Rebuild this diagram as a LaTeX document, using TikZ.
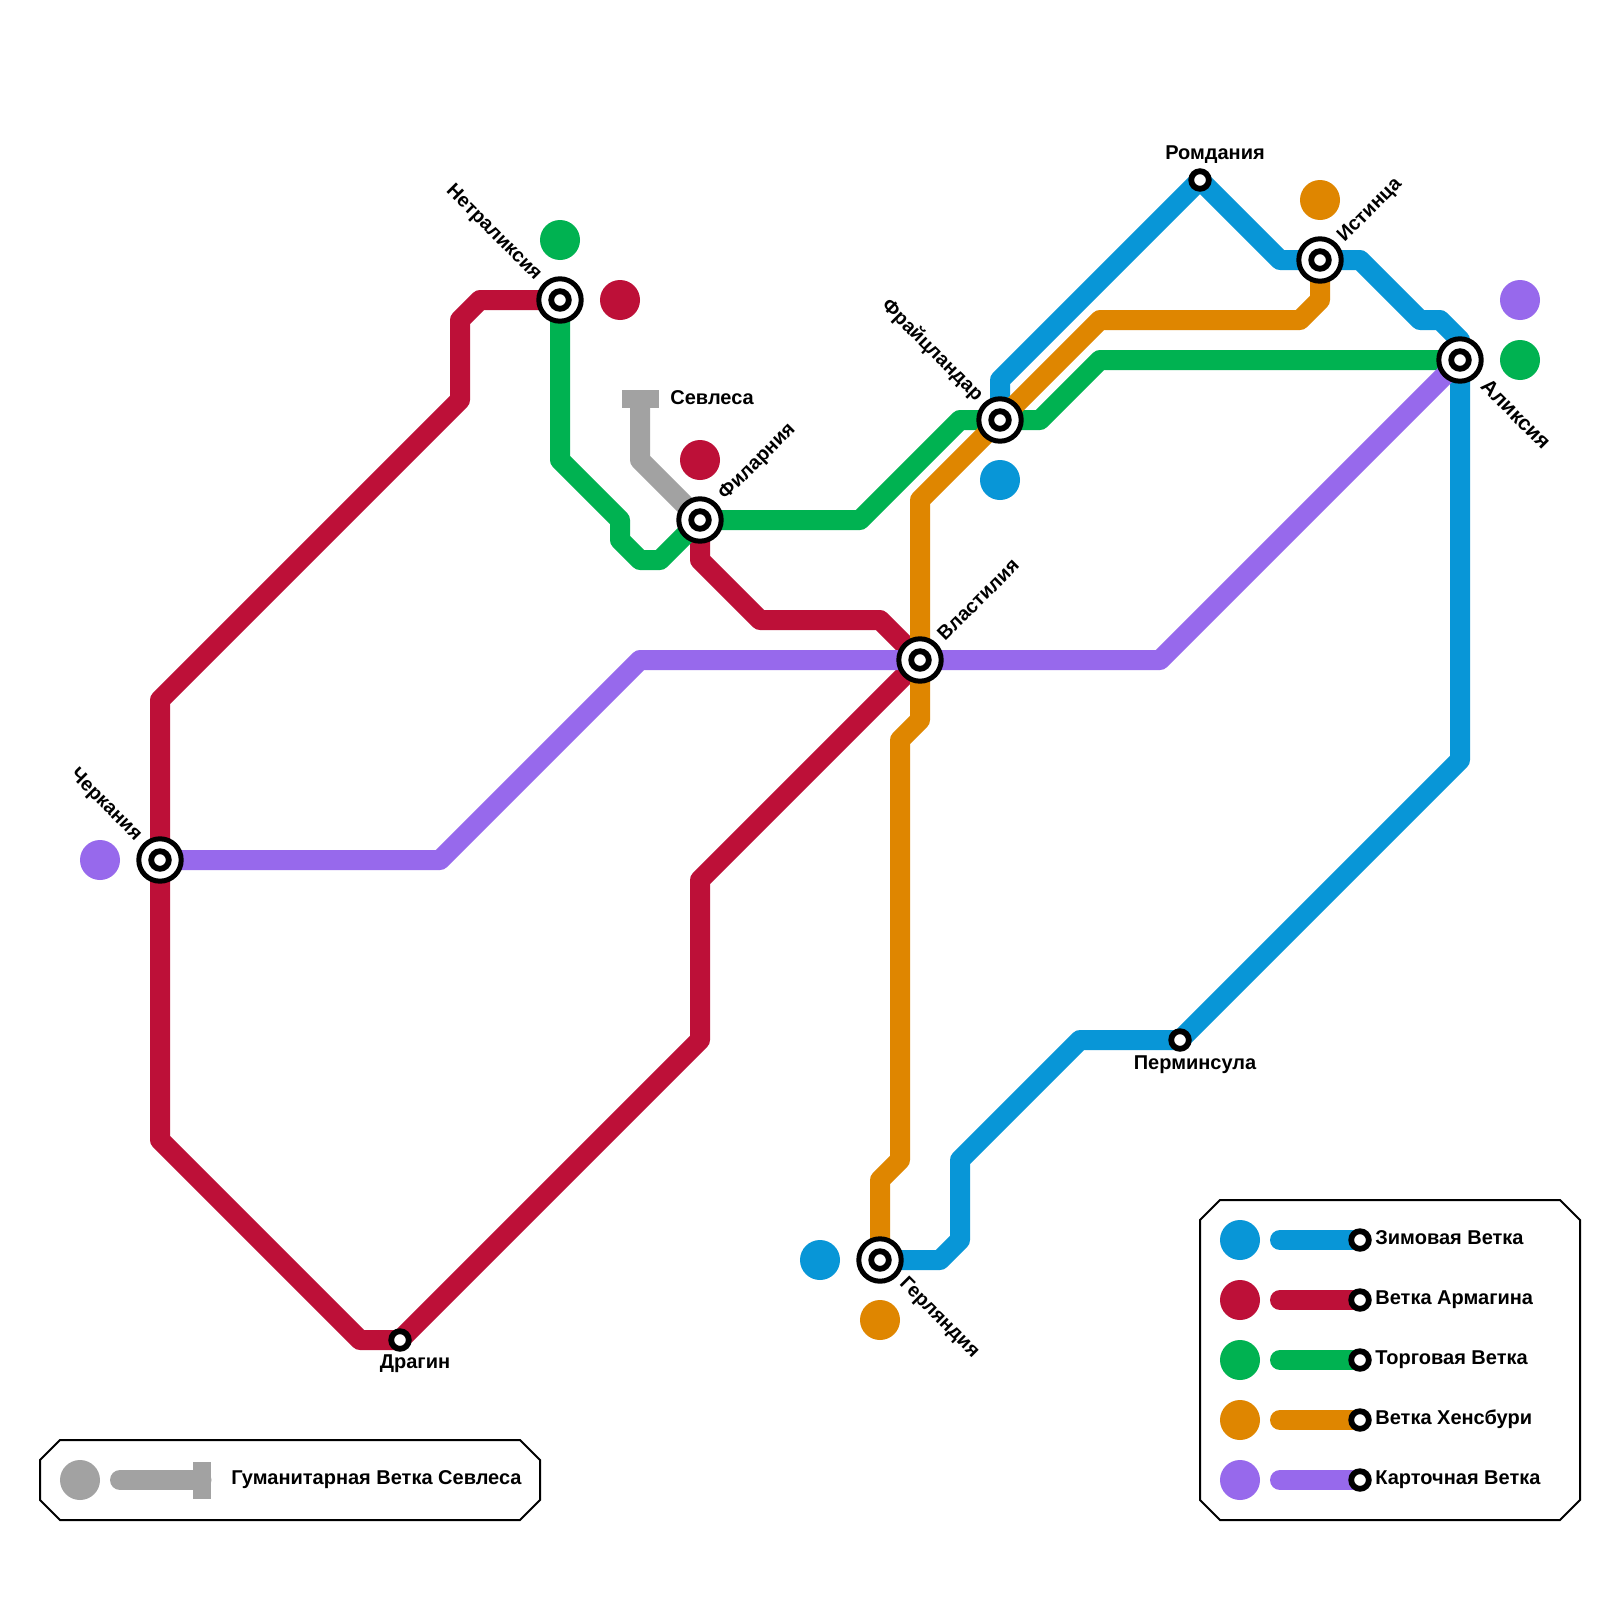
\documentclass[tikz,border=0pt]{standalone}
\usepackage{fontspec}
\setmainfont{Liberation Sans}
\usetikzlibrary{backgrounds}
\definecolor{cblue}{HTML}{0896D7}
\definecolor{cred}{HTML}{BD1038}
\definecolor{cgreen}{HTML}{00B251}
\definecolor{corange}{HTML}{DF8600}
\definecolor{cpurple}{HTML}{9769EC}
\definecolor{cgray}{HTML}{A2A2A2}
\tikzset{
  hub/.style={circle,draw=black,fill=white,line width=2.5pt,minimum size=21.2pt,inner sep=0pt,outer sep=0pt,
    path picture={\draw[black,line width=2.9pt] (path picture bounding box.center) circle (4.4pt);}},
  halt/.style={circle,draw=black,fill=white,line width=2.9pt,minimum size=8.8pt,inner sep=0pt,outer sep=0pt},
  dot/.style={circle,fill=#1,minimum size=20pt,inner sep=0pt,outer sep=0pt},
  way/.style={line width=10pt,line join=round,line cap=butt},
  keyline/.style={line width=10pt,line cap=round},
  lab/.style={font=\fontsize{10}{12}\selectfont\bfseries,text=black,inner sep=0pt},
  tilt/.style={font=\fontsize{9.8}{12}\selectfont\bfseries,text=black,inner sep=0pt},
  keybox/.style={draw=black,line width=1pt,fill=white},
  capbar/.style={fill=cgray,draw=none,minimum width=18.5pt,minimum height=9pt,inner sep=0pt,outer sep=0pt}
}
\begin{document}
\begin{tikzpicture}[x=0.5pt,y=-0.5pt]
\useasboundingbox (0,0) rectangle (1600,1600);
% stations
\node[hub] (cherk) at (160,860) {};
\node[hub] (netr) at (560,300) {};
\node[hub] (fil) at (700,520) {};
\node[hub] (vlast) at (920,660) {};
\node[hub] (frai) at (1000,420) {};
\node[hub] (alik) at (1460,360) {};
\node[hub] (ist) at (1320,260) {};
\node[hub] (gerl) at (880,1260) {};
\node[halt] (romd) at (1200,180) {};
\node[halt] (perm) at (1180,1040) {};
\node[halt] (drag) at (400,1340) {};
\node[capbar] (sevl) at (640,398.5) {};
% interchange dots
\node[dot=cgreen] (d1) at (560,240) {};
\node[dot=cred] (d2) at (620,300) {};
\node[dot=cred] (d3) at (700,460) {};
\node[dot=cblue] (d4) at (1000,480) {};
\node[dot=corange] (d5) at (1320,200) {};
\node[dot=cpurple] (d6) at (1520,300) {};
\node[dot=cgreen] (d7) at (1520,360) {};
\node[dot=cpurple] (d8) at (100,860) {};
\node[dot=cblue] (d9) at (820,1260) {};
\node[dot=corange] (d10) at (880,1320) {};
% station labels
\node[tilt,rotate=-45] (t1) at (105.5,805) {Черкания};
\node[tilt,rotate=-45] (t2) at (493.5,233) {Нетраликсия};
\node[tilt,rotate=45] (t3) at (757.5,462) {Филарния};
\node[tilt,rotate=45] (t4) at (978,599.5) {Властилия};
\node[tilt,rotate=-45] (t5) at (932,350.5) {Фрайцландар};
\node[tilt,rotate=45] (t6) at (1370,210.5) {Истинца};
\node[lab,rotate=-45,font=\fontsize{10.5}{12}\selectfont\bfseries] (t7) at (1516,414) {Аликсия};
\node[tilt,rotate=-45] (t8) at (939,1318) {Герляндия};
\node[lab] (t9) at (1215,155) {Ромдания};
\node[lab] (t10) at (1195,1065) {Перминсула};
\node[lab] (t11) at (415,1364) {Драгин};
\node[lab,anchor=base west] (t12) at (670,404) {Севлеса};
% legends: boxes go beneath their contents
\begin{scope}[on background layer]
\fill[white] (0,0) rectangle (1600,1600);
\draw[keybox] (1220,1200) -- (1560,1200) -- (1580,1220) -- (1580,1500) -- (1560,1520) -- (1220,1520) -- (1200,1500) -- (1200,1220) -- cycle;
\draw[keybox] (60,1440) -- (520,1440) -- (540,1460) -- (540,1500) -- (520,1520) -- (60,1520) -- (40,1500) -- (40,1460) -- cycle;
% network lines
\draw[way,cgray] (sevl.center) -- (640,460) -- (fil.center);
\draw[way,cblue] (gerl.center) -- (940,1260) -- (960,1240) -- (960,1160) -- (1080,1040) -- (perm.center) -- (1460,760) -- (alik.center);
\draw[way,cblue] (alik.center) -- (1460,340) -- (1440,320) -- (1420,320) -- (1360,260) -- (ist.center) -- (1280,260) -- (romd.center) -- (1000,380) -- (frai.center);
\draw[way,cred] (netr.center) -- (480,300) -- (460,320) -- (460,400) -- (160,700) -- (cherk.center) -- (160,1140) -- (360,1340) -- (drag.center) -- (700,1040) -- (700,880) -- (vlast.center) -- (880,620) -- (760,620) -- (700,560) -- (fil.center);
\draw[way,cgreen] (netr.center) -- (560,460) -- (620,520) -- (620,540) -- (640,560) -- (660,560) -- (fil.center) -- (860,520) -- (960,420) -- (frai.center) -- (1040,420) -- (1100,360) -- (alik.center);
\draw[way,corange] (gerl.center) -- (880,1180) -- (900,1160) -- (900,740) -- (920,720) -- (vlast.center) -- (920,500) -- (frai.center) -- (1100,320) -- (1300,320) -- (1320,300) -- (ist.center);
\draw[way,cpurple] (cherk.center) -- (440,860) -- (640,660) -- (vlast.center) -- (1160,660) -- (alik.center);
\end{scope}
% legend contents
\foreach \y/\c/\n/\t in {1240/cblue/a/Зимовая Ветка,1300/cred/b/Ветка Армагина,1360/cgreen/c/Торговая Ветка,1420/corange/d/Ветка Хенсбури,1480/cpurple/e/Карточная Ветка}{
  \node[dot=\c] (k\n) at (1240,\y) {};
  \coordinate (ks\n) at (1280,\y);
  \node[halt] (ke\n) at (1360,\y) {};
  \begin{scope}[on background layer]
  \draw[keyline,\c] (ks\n) -- (ke\n.center);
  \end{scope}
  \node[lab,anchor=base west] (kt\n) at (1375,\y+4) {\t};
}
\node[dot=cgray] (kg) at (80,1480) {};
\node[capbar,minimum width=9pt,minimum height=18.5pt] (kgc) at (201.5,1480) {};
\coordinate (kgs) at (120,1480);
\begin{scope}[on background layer]
\draw[keyline,cgray] (kgs) -- (kgc.center);
\end{scope}
\node[lab,anchor=base west] (kgt) at (231,1484) {Гуманитарная Ветка Севлеса};
\end{tikzpicture}
\end{document}
